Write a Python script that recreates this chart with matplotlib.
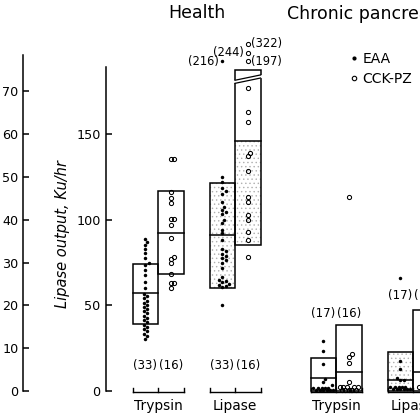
import numpy as np
import matplotlib
matplotlib.use("Agg")
import matplotlib.pyplot as plt
from matplotlib.lines import Line2D
from matplotlib.patches import Rectangle, Polygon
from matplotlib.transforms import blended_transform_factory

# ---------------- data ----------------
conditions = ["Health", "Chronic pancreatitis"]
enzymes = ["Trypsin", "Lipase"]
stimuli = ["EAA", "CCK-PZ"]

trypsin_ticks = [0, 10, 20, 30, 40, 50, 60, 70]
lipase_ticks = [0, 50, 100, 150]
lipase_label = "Lipase output, Ku/hr"

# individual outputs (trypsin in trypsin-axis units, lipase in Ku/hr)
health_trypsin_eaa = [35.4, 34.7, 34.0, 33.2, 32.2, 31.0, 30.0, 29.4, 28.2, 27.0, 25.5,
                      24.0, 22.6, 22.1, 21.6, 21.1, 20.6, 20.1, 19.6, 19.1, 18.6, 18.1,
                      17.6, 17.1, 16.5, 16.0, 15.4, 14.9, 14.4, 13.9, 13.4, 12.8, 12.1]
health_trypsin_cck = [54.1, 54.1, 46.4, 45.0, 43.9, 40.1, 40.1, 38.7, 35.7, 31.3, 30.8,
                      29.9, 27.3, 25.2, 25.2, 24.0]
health_lipase_eaa = [216, 125, 122, 118.5, 116.7, 115, 110.5, 107.6, 105.7, 104.5, 103.5,
                     99.8, 98, 94, 92, 88, 83, 81.5, 80, 79, 77.5, 76.5, 75, 72, 66.5,
                     65, 64, 63.5, 62.5, 62, 61.5, 61, 50.2]
health_lipase_cck = [322, 244, 197, 176.6, 162.6, 157.3, 139.0, 137.0, 128.6, 113.0,
                     110.3, 103.0, 100.0, 93.0, 88.0, 78.4]
cp_trypsin_eaa = [11.7, 9.3, 6.4, 2.8, 2.1, 1.4, 0.8, 0.8, 0.8, 0.8, 0.8,
                  0.25, 0.25, 0.25, 0.25, 0.25, 0.25]
cp_trypsin_cck = [45.3, 8.6, 7.9, 6.6, 2.1, 0.9, 0.9, 0.9, 0.9, 0.9,
                  0.3, 0.3, 0.3, 0.3, 0.3, 0.3]
cp_lipase_eaa = [65.8, 17.5, 12.9, 7.4, 6.6, 6.2, 2.4, 2.4, 2.4, 2.4, 2.4,
                 1.0, 1.0, 1.0, 1.0, 1.0, 1.0]
cp_lipase_cck = [58.0, 44.0, 36.0, 27.0, 19.0, 14.0, 11.1, 9.0, 6.0, 2.4, 2.4, 2.4,
                 1.0, 1.0, 1.0, 1.0]

# boxes: lower edge, median, upper edge
box_health_trypsin_eaa = [15.6, 22.9, 29.6]
box_health_trypsin_cck = [27.3, 36.9, 46.7]
box_health_lipase_eaa = [60.1, 91.1, 121.4]
box_health_lipase_cck = [85.2, 146.0, 187.4]
box_cp_trypsin_eaa = [0, 3.0, 7.8]
box_cp_trypsin_cck = [0, 4.5, 15.4]
box_cp_lipase_eaa = [0, 6.4, 22.6]
box_cp_lipase_cck = [0, 11.1, 47.3]

# ---------------- layout ----------------
W = H = 420
LIP_PX = 1.713          # pixels per Ku/hr
Y0_PX = 391             # pixel row of zero
TRYP_FACTOR = 2.5       # trypsin unit -> lipase-axis unit
OFF_LIMIT = 190.0       # values above are printed off-scale
BW = 25.5               # box width (px)

plt.rcParams["font.family"] = ["DejaVu Sans"]
plt.rcParams["hatch.linewidth"] = 0.5
fig = plt.figure(figsize=(4.2, 4.2), dpi=100)
ax = fig.add_axes([0, 0, 1, 1])
ax.set_xlim(0, W)
ax.set_ylim(-(H - Y0_PX) / LIP_PX, Y0_PX / LIP_PX)
ty = blended_transform_factory(ax.transData, ax.transAxes)


def yf(p):
    return 1 - p / H


def swarm(ypx, d, hw):
    """Deterministic beeswarm offsets (px), limited to +-hw."""
    step = d * 0.5
    cands = [0.0]
    k = 1
    while k * step <= hw:
        cands += [k * step, -k * step]
        k += 1
    order = np.argsort(ypx)
    xs = np.zeros(len(ypx))
    placed = []
    for i in order:
        y = ypx[i]
        best, best_d = 0.0, -1.0
        for off in cands:
            md = min([np.hypot(off - px, y - py) for px, py in placed] or [1e9])
            if md >= d:
                best = off
                break
            if md > best_d:
                best, best_d = off, md
        xs[i] = best
        placed.append((best, y))
    return xs


panels = [
    (158, "Trypsin", [health_trypsin_eaa, health_trypsin_cck],
     [box_health_trypsin_eaa, box_health_trypsin_cck], 365, [None, None], False),
    (235, "Lipase", [health_lipase_eaa, health_lipase_cck],
     [box_health_lipase_eaa, box_health_lipase_cck], 365, ["full", "lower"], True),
    (336, "Trypsin", [cp_trypsin_eaa, cp_trypsin_cck],
     [box_cp_trypsin_eaa, box_cp_trypsin_cck], 314, [None, None], False),
    (413, "Lipase", [cp_lipase_eaa, cp_lipase_cck],
     [box_cp_lipase_eaa, box_cp_lipase_cck], 295, ["full", None], False),
]

for c, enz, vals_pair, box_pair, cnt_y, stip, broken in panels:
    f = TRYP_FACTOR if enz == "Trypsin" else 1.0
    for j in range(2):
        x0 = c - BW + j * BW
        xc = x0 + BW / 2
        lo, med, hi = box_pair[j]
        if stip[j] is not None:
            top = hi if stip[j] == "full" else med
            ax.add_patch(Rectangle((x0, lo * f), BW, (top - lo) * f, facecolor="none",
                                   edgecolor="#b0b0b0", lw=0, hatch="....", zorder=1))
        ax.add_patch(Rectangle((x0, lo * f), BW, (hi - lo) * f, fill=False,
                               edgecolor="k", lw=1.1, zorder=2))
        ax.plot([x0, x0 + BW], [med * f, med * f], color="k", lw=1.1, zorder=2)
        if broken and j == 1:
            t = hi * f
            ax.add_patch(Polygon([(x0 - 1.5, t - 6.0), (x0 + BW + 1.5, t - 2.9),
                                  (x0 + BW + 1.5, t - 4.7), (x0 - 1.5, t - 7.8)],
                                 closed=True, facecolor="white", edgecolor="none", zorder=2.5))
            ax.plot([x0, x0 + BW], [t - 6.0, t - 2.9], color="k", lw=0.9, zorder=2.6)
            ax.plot([x0, x0 + BW], [t - 7.8, t - 4.7], color="k", lw=0.9, zorder=2.6)

        v = np.asarray(vals_pair[j], dtype=float) * f
        on = v <= OFF_LIMIT
        yv = v[on]
        d = 3.4 if j == 0 else 3.6
        xs = xc + swarm(yv * LIP_PX, d, BW / 2 - 2)
        if j == 0:
            ax.plot(xs, yv, ls="none", marker="o", ms=2.5, color="k", mew=0, zorder=3)
        else:
            ax.plot(xs, yv, ls="none", marker="o", ms=3.0, mfc="none", mec="k",
                    mew=0.75, zorder=3)
        offv = np.sort(np.asarray(vals_pair[j], dtype=float)[~on])
        for r, ov in enumerate(offv):
            yd = 187.3 + 5.1 * (r + 1)
            if j == 0:
                ax.plot([xc], [yd], ls="none", marker="o", ms=2.5, color="k", mew=0)
            else:
                ax.plot([xc], [yd], ls="none", marker="o", ms=3.0, mfc="none",
                        mec="k", mew=0.75)
            right = (j == 1 and r % 2 == 0)
            ax.text(xc + (3.5 if right else -3.5), yd, f"({ov:g})",
                    ha="left" if right else "right", va="center", fontsize=8.3)
        ax.text(xc, yf(cnt_y), f"({len(vals_pair[j])})", transform=ty,
                ha="center", va="center", fontsize=8.5)
    ax.plot([c - BW, c + BW], [-0.5, -0.5], color="k", lw=1.0, zorder=2)
    for bx in (c - BW, c, c + BW):
        ax.plot([bx, bx], [-0.5, 2.0], color="k", lw=1.0, zorder=2)
    ax.text(c, yf(406), enz, transform=ty, ha="center", va="center", fontsize=9.9)

ax.text((panels[0][0] + panels[1][0]) / 2, yf(13), conditions[0], transform=ty,
        ha="center", va="center", fontsize=12.5)
ax.text((panels[2][0] + panels[3][0]) / 2, yf(14), conditions[1], transform=ty,
        ha="center", va="center", fontsize=12.5)

for s in ("top", "right", "bottom"):
    ax.spines[s].set_visible(False)
ax.spines["left"].set_position(("data", 106))
ax.spines["left"].set_bounds(0, 189)
ax.spines["left"].set_linewidth(1.1)
ax.set_xticks([])
ax.set_yticks(lipase_ticks)
ax.tick_params(axis="y", direction="in", length=4.5, width=1.1, pad=4, labelsize=9.2)
ax.set_ylabel(lipase_label, fontstyle="italic", fontsize=10.5)
ax.yaxis.set_label_coords(70 / W, 1 - 234 / H)

sec = ax.secondary_yaxis(22.5 / W, functions=(lambda v: v / TRYP_FACTOR,
                                              lambda t: t * TRYP_FACTOR))
sec.set_yticks(trypsin_ticks)
sec.spines["left"].set_bounds(0, 78.5)
sec.spines["left"].set_linewidth(1.1)
sec.tick_params(direction="in", length=4.5, width=1.1, pad=3, labelsize=9.2)

handles = [Line2D([], [], ls="none", marker="o", ms=3.0, color="k", mew=0),
           Line2D([], [], ls="none", marker="o", ms=3.2, mfc="none", mec="k", mew=0.8)]
ax.legend(handles, stimuli, loc="upper left", bbox_to_anchor=(350 / W, 1 - 52 / H),
          frameon=False, fontsize=10, handlelength=0.6, handletextpad=0.3,
          labelspacing=0.45, borderpad=0, borderaxespad=0)

fig.savefig("out.png", dpi=100)
